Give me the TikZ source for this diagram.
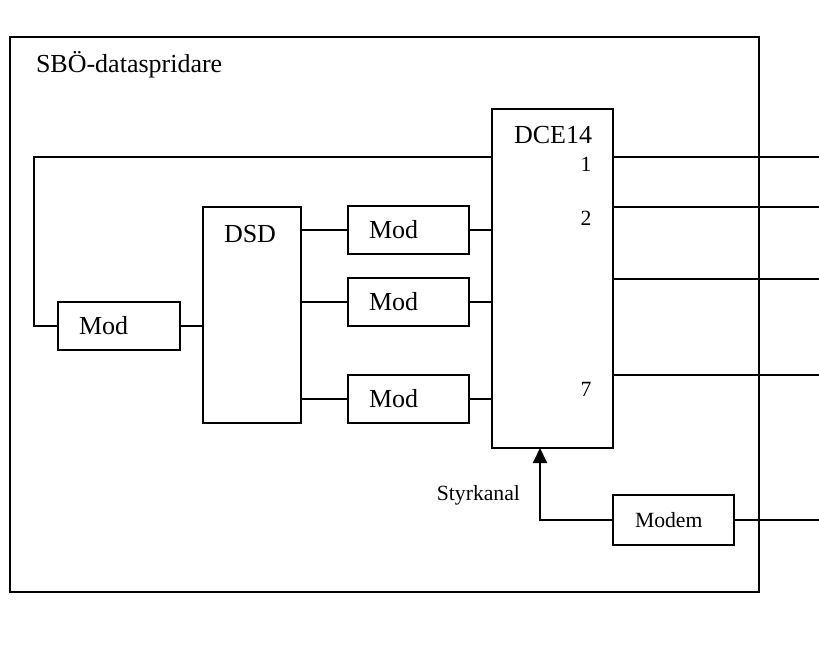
\documentclass[tikz,border=0pt]{standalone}
\usepackage{fontspec}
\setmainfont{Liberation Serif}
\usetikzlibrary{arrows.meta}

\begin{document}
\begin{tikzpicture}[x = 1pt, y = -1pt, line width = 2pt,
  every node/.style = {font = \fontsize{26}{31}\selectfont},
  small/.style = {font = \fontsize{21.7}{26}\selectfont},
  tag/.style = {inner sep = 0pt},
  modbox/.style = {draw, minimum height = 48pt, inner xsep = 21pt, inner ysep = 0pt, text width = 79pt, align = left}]
\useasboundingbox (0,0) rectangle (819,651);
\draw (10,37) rectangle (759,592);
\node[tag, anchor = base west] (title) at (35,72) {SBÖ-dataspridare};

\node[draw, minimum width = 121pt, minimum height = 339pt] (dce) at (552.5,278.5) {};
\node[tag, anchor = base west] (dcelabel) at (513,143) {DCE14};
\node[tag, small, anchor = base] (p1) at (586,171) {1};
\node[tag, small, anchor = base] (p2) at (586,225) {2};
\node[tag, small, anchor = base] (p7) at (586,396) {7};

\node[draw, minimum width = 98pt, minimum height = 216pt] (dsd) at (252,315) {};
\node[tag, anchor = base west] (dsdlabel) at (223,242) {DSD};

\node[modbox, text width = 80pt] (moda) at (119,326) {Mod};
\node[modbox] (modb) at (408.5,230) {Mod};
\node[modbox] (modc) at (408.5,302) {Mod};
\node[modbox] (modd) at (408.5,399) {Mod};
\node[modbox, small, inner xsep = 22pt, text width = 77pt, minimum height = 50pt] (modem) at (673.5,520) {Modem};
\node[tag, small, anchor = base east] (ctltext) at (521,500) {Styrkanal};

\coordinate (loop) at (34,157);
\coordinate (out1) at (819,157);
\coordinate (out2) at (819,207);
\coordinate (out3) at (819,279);
\coordinate (out7) at (819,375);
\coordinate (outm) at (819,520);
\coordinate (ctl) at (540,448);

\draw (dce.west |- loop) -- (loop) |- (moda);
\draw (moda.east) -- (moda.east -| dsd.west);
\foreach \m in {modb, modc, modd} {
  \draw (dsd.east |- \m.west) -- (\m.west);
  \draw (\m.east) -- (\m.east -| dce.west);
}
\foreach \o in {out1, out2, out3, out7}
  \draw (dce.east |- \o) -- (\o);
\draw (modem.east) -- (outm);
\draw[-{Triangle[width = 14pt, length = 15pt]}] (modem.west) -| (ctl);
\end{tikzpicture}
\end{document}
